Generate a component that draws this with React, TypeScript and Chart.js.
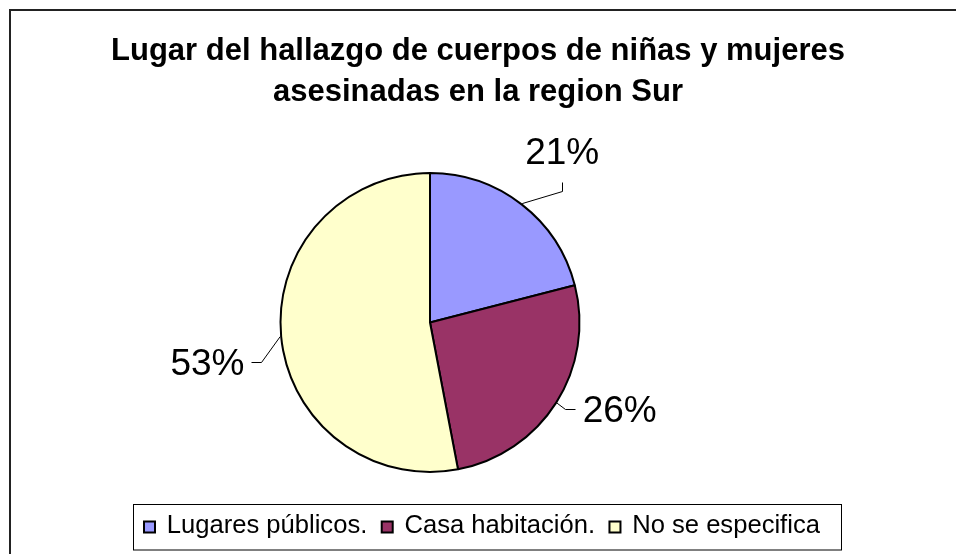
import React, { useEffect, useRef } from "react";
import { Chart, ArcElement, PieController } from "chart.js";

Chart.register(ArcElement, PieController);

// ---- data ----
const categories = ["Lugares públicos.", "Casa habitación.", "No se especifica"];
const values = [21, 26, 53];
const colors = ["#9999FF", "#993366", "#FFFFCC"];
const titleLines = [
  "Lugar del hallazgo de cuerpos de niñas y mujeres",
  "asesinadas en la region Sur",
];

const FONT = '"Liberation Sans", Arial, Helvetica, sans-serif';

// label placement tweaks (style, relative to radial position)
const labelNudges = [
  { dx: 1, dy: -3 },
  { dx: 9, dy: -28 },
  { dx: -9.5, dy: 19 },
];

const decorPlugin = {
  id: "decor",
  afterDraw(chart: any) {
    const ctx: CanvasRenderingContext2D = chart.ctx;
    const W = chart.width;
    ctx.save();

    // outer chart frame (top & left visible)
    ctx.strokeStyle = "#222";
    ctx.lineWidth = 2;
    ctx.beginPath();
    ctx.moveTo(10, chart.height + 10);
    ctx.lineTo(10, 10);
    ctx.lineTo(W + 10, 10);
    ctx.stroke();

    // title
    ctx.fillStyle = "#000";
    ctx.font = `bold 31px ${FONT}`;
    ctx.textAlign = "center";
    ctx.textBaseline = "alphabetic";
    titleLines.forEach((t, i) => ctx.fillText(t, W / 2, 60 + i * 41));

    // data labels with leader lines
    const meta = chart.getDatasetMeta(0);
    const data: number[] = chart.data.datasets[0].data;
    const total = data.reduce((a, b) => a + b, 0);
    const fs = 37;
    const cap = fs * 0.716;
    ctx.font = `${fs}px ${FONT}`;
    ctx.lineWidth = 1;
    ctx.strokeStyle = "#000";
    meta.data.forEach((arc: any, i: number) => {
      const { x, y, startAngle, endAngle, outerRadius } = arc.getProps(
        ["x", "y", "startAngle", "endAngle", "outerRadius"],
        true
      );
      const mid = (startAngle + endAngle) / 2;
      const cx = Math.cos(mid);
      const sy = Math.sin(mid);
      const px = x + (outerRadius + 1) * cx;
      const py = y + (outerRadius + 1) * sy;
      const n = labelNudges[i] || { dx: 0, dy: 0 };
      const tx = x + 214 * cx + n.dx;
      const ty = y + 214 * sy + n.dy;
      const text = Math.round((data[i] / total) * 100) + "%";
      const w = ctx.measureText(text).width;
      ctx.textAlign = "center";
      ctx.fillText(text, tx, ty + cap / 2);

      let ax: number, ay: number, ex: number, ey: number;
      if (Math.abs(sy) > 0.6 && sy < 0) {
        // label above: attach at bottom centre
        ax = tx;
        ay = ty + 31.7;
        ex = ax;
        ey = ay + 9;
      } else if (cx >= 0) {
        ax = tx - w / 2 - 8;
        ay = ty;
        ex = ax - 10;
        ey = ay;
      } else {
        ax = tx + w / 2 + 7;
        ay = ty;
        ex = ax + 10;
        ey = ay;
      }
      ctx.beginPath();
      ctx.moveTo(Math.round(ax) + 0.5, Math.round(ay) + 0.5);
      ctx.lineTo(Math.round(ex) + 0.5, Math.round(ey) + 0.5);
      ctx.lineTo(px, py);
      ctx.stroke();
    });

    // legend
    const lfs = 25.6;
    ctx.font = `${lfs}px ${FONT}`;
    ctx.textAlign = "left";
    const boxL = 133.5,
      boxT = 504.5,
      boxW = 708,
      boxH = 45.5;
    ctx.lineWidth = 1;
    ctx.strokeStyle = "#000";
    ctx.strokeRect(boxL, boxT, boxW, boxH);
    let cur = 143;
    const baseline = 533.3;
    const labels: string[] = chart.data.labels;
    labels.forEach((lab, i) => {
      ctx.fillStyle = colors[i];
      ctx.fillRect(cur + 1, 521.5, 11, 11);
      ctx.lineWidth = 2;
      ctx.strokeStyle = "#000";
      ctx.strokeRect(cur + 1, 521.5, 11, 11);
      const textX = cur + 23.7;
      ctx.fillStyle = "#000";
      ctx.fillText(lab, textX, baseline);
      cur = textX + ctx.measureText(lab).width + 13.4;
    });

    ctx.restore();
  },
};

export default function App() {
  const ref = useRef<HTMLCanvasElement | null>(null);
  useEffect(() => {
    if (!ref.current) return;
    const chart = new Chart(ref.current, {
      type: "pie",
      data: {
        labels: categories,
        datasets: [
          {
            data: values,
            backgroundColor: colors,
            borderColor: "#000",
            borderWidth: 2,
          },
        ],
      },
      options: {
        responsive: false,
        animation: false,
        events: [],
        layout: {
          padding: { left: 279.5, right: 375.5, top: 172, bottom: 81 },
        },
        plugins: {
          legend: { display: false },
          title: { display: false },
          tooltip: { enabled: false },
        },
      },
      plugins: [decorPlugin],
    });
    return () => chart.destroy();
  }, []);
  return (
    <div
      style={{
        position: "fixed",
        left: 0,
        top: 0,
        width: 956,
        height: 554,
        background: "#fff",
      }}
    >
      <canvas ref={ref} width={956} height={554} />
    </div>
  );
}
